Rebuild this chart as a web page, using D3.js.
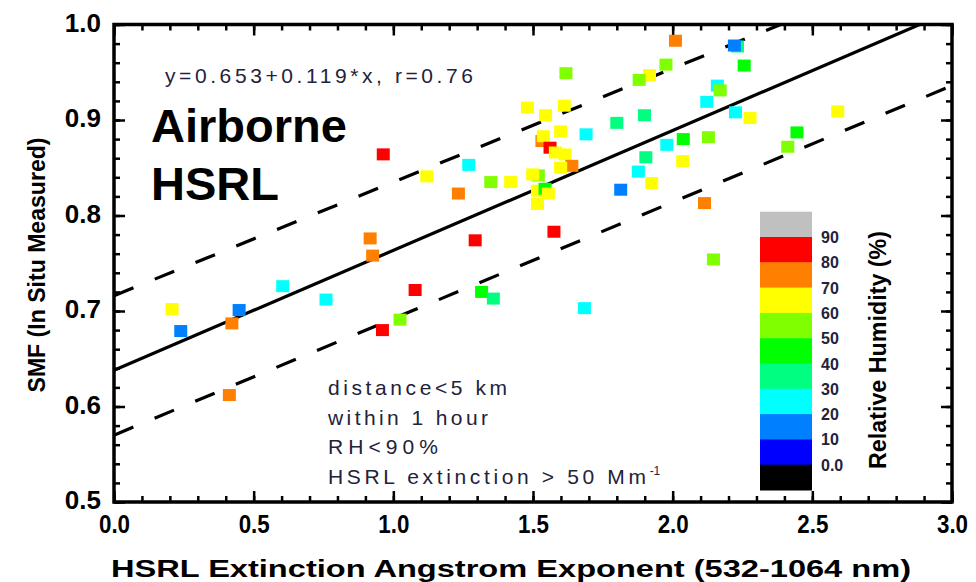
<!DOCTYPE html>
<html>
<head>
<meta charset="utf-8">
<script src="https://cdn.jsdelivr.net/npm/d3@7"></script>
<style>
  body { margin: 0; background: #fff; }
  svg { display: block; font-family: "Liberation Sans", Arial, sans-serif; }
</style>
</head>
<body>
<svg id="chart" width="976" height="582"></svg>
<script>
// angstrom exponent (x), SMF (y), relative humidity (colour)
const angstrom = [0.208, 0.239, 0.422, 0.448, 0.413, 0.604, 0.759, 0.917, 0.926, 0.964,
  0.961, 1.024, 1.078, 1.120, 1.233, 1.270, 1.293, 1.316, 1.358, 1.349,
  1.420, 1.480, 1.545, 1.612, 1.599, 1.532, 1.537, 1.561, 1.580, 1.615,
  1.639, 1.599, 1.519, 1.499, 1.516, 1.543, 1.555, 1.516, 1.575, 1.618,
  1.690, 1.684, 1.800, 1.814, 1.877, 1.925, 1.904, 1.899, 1.917, 1.880,
  1.976, 2.010, 1.979, 2.038, 2.036, 2.114, 2.128, 2.122, 2.160, 2.170,
  2.146, 2.232, 2.221, 2.256, 2.225, 2.277, 2.412, 2.445, 2.591];
const smf = [0.702, 0.679, 0.687, 0.701, 0.612, 0.726, 0.712, 0.776, 0.758, 0.864,
  0.680, 0.691, 0.722, 0.841, 0.823, 0.853, 0.774, 0.720, 0.713, 0.835,
  0.835, 0.913, 0.905, 0.915, 0.888, 0.878, 0.883, 0.871, 0.866, 0.864,
  0.852, 0.850, 0.842, 0.843, 0.826, 0.828, 0.823, 0.812, 0.783, 0.949,
  0.885, 0.703, 0.897, 0.827, 0.846, 0.834, 0.861, 0.905, 0.947, 0.942,
  0.958, 0.983, 0.874, 0.880, 0.857, 0.813, 0.882, 0.919, 0.936, 0.931,
  0.754, 0.977, 0.978, 0.957, 0.908, 0.902, 0.872, 0.887, 0.909];
const rh = [65, 15, 75, 15, 75, 25, 25, 75, 75, 85,
  85, 55, 85, 65, 75, 25, 85, 45, 35, 55,
  65, 65, 65, 65, 65, 75, 65, 85, 65, 65,
  75, 65, 55, 65, 65, 45, 65, 65, 85, 55,
  25, 25, 35, 15, 25, 65, 35, 35, 65, 55,
  55, 75, 25, 45, 65, 75, 55, 25, 25, 55,
  55, 35, 15, 45, 25, 65, 55, 45, 65];

// regression line and dashed bounds as drawn
const fitLine = { a: 0.638, b: 0.1255 };
const upperLine = { a: 0.716, b: 0.119 };
const lowerLine = { a: 0.570, b: 0.122 };

const rhBreaks = [0, 10, 20, 30, 40, 50, 60, 70, 80, 90];
const rhColors = ["#000000", "#0000ff", "#0080ff", "#00ffff", "#00ff80", "#00ff00",
  "#80ff00", "#ffff00", "#ff8000", "#ff0000", "#c0c0c0"];
const rhLabels = ["0.0", "10", "20", "30", "40", "50", "60", "70", "80", "90"];

const xMajor = [0, 0.5, 1, 1.5, 2, 2.5, 3];
const yMajor = [0.5, 0.6, 0.7, 0.8, 0.9, 1.0];

const notes = ["distance<5 km", "within 1 hour", "RH<90%"];
const noteWidths = [179, 160, 110];

const svg = d3.select("#chart");

const x = d3.scaleLinear().domain([0, 3]).range([114, 952]);
const y = d3.scaleLinear().domain([0.5, 1.0]).range([502, 24.5]);
const color = d3.scaleThreshold().domain(rhBreaks).range(rhColors);

const xMinor = d3.range(0, 3.001, 0.1).map(v => +v.toFixed(2));
const yMinor = d3.range(0.5, 1.001, 0.02).map(v => +v.toFixed(2));

// axes with inward ticks on all four sides
function drawAxis(axisFn, scale, minorVals, majorVals, tx, ty, labels) {
  const g = svg.append("g").attr("transform", `translate(${tx},${ty})`);
  g.append("g").call(axisFn(scale).tickValues(minorVals).tickSizeInner(-6).tickSizeOuter(0).tickFormat(""));
  const maj = g.append("g").call(axisFn(scale).tickValues(majorVals).tickSizeInner(-11).tickSizeOuter(0)
    .tickPadding(labels ? 13 : 0).tickFormat(labels ? d3.format(".1f") : ""));
  g.selectAll(".domain").remove();
  g.selectAll("line").attr("stroke", "#000").attr("stroke-width", 2.5);
  maj.selectAll("text")
    .attr("font-size", 26)
    .attr("font-weight", "bold")
    .attr("fill", "#000");
  return maj;
}
drawAxis(d3.axisBottom, x, xMinor, xMajor, 0, 502, true)
  .selectAll("text").attr("transform", "scale(0.86,1)");
drawAxis(d3.axisTop, x, xMinor, xMajor, 0, 24.5, false);
drawAxis(d3.axisLeft, y, yMinor, yMajor, 114, 0, true)
  .selectAll("text").attr("dy", "0.25em");
drawAxis(d3.axisRight, y, yMinor, yMajor, 952, 0, false);

svg.append("rect")
  .attr("x", 114).attr("y", 24.5)
  .attr("width", 952 - 114).attr("height", 502 - 24.5)
  .attr("fill", "none").attr("stroke", "#000").attr("stroke-width", 3.5);

// clip lines to plot box
svg.append("clipPath").attr("id", "plotClip")
  .append("rect").attr("x", 114).attr("y", 24.5).attr("width", 838).attr("height", 477.5);

const lines = svg.append("g").attr("clip-path", "url(#plotClip)");
function addLine(p, dash) {
  lines.append("line")
    .attr("x1", x(0)).attr("y1", y(p.a))
    .attr("x2", x(3)).attr("y2", y(p.a + p.b * 3))
    .attr("stroke", "#000").attr("stroke-width", 3.2)
    .attr("stroke-dasharray", dash);
}
addLine(fitLine, null);
addLine(upperLine, "21,23");
addLine(lowerLine, "21,23");

// points
svg.append("g").selectAll("rect")
  .data(angstrom.map((v, i) => ({ x: v, y: smf[i], rh: rh[i] })))
  .join("rect")
  .attr("x", d => x(d.x) - 6.5)
  .attr("y", d => y(d.y) - 6)
  .attr("width", 13)
  .attr("height", 12)
  .attr("fill", d => color(d.rh));

// text annotations
svg.append("text")
  .attr("x", 165).attr("y", 83)
  .attr("font-size", 21).attr("fill", "#22223a")
  .attr("textLength", 308).attr("lengthAdjust", "spacing")
  .text("y=0.653+0.119*x, r=0.76");

svg.append("text").attr("x", 151).attr("y", 142)
  .attr("font-size", 47).attr("font-weight", "bold").text("Airborne");
svg.append("text").attr("x", 151).attr("y", 200)
  .attr("font-size", 47).attr("font-weight", "bold").text("HSRL");

svg.append("g").selectAll("text")
  .data(notes)
  .join("text")
  .attr("x", 328)
  .attr("y", (d, i) => 395 + i * 29.5)
  .attr("font-size", 21).attr("fill", "#22223a")
  .attr("textLength", (d, i) => noteWidths[i]).attr("lengthAdjust", "spacing")
  .text(d => d);
const ext = svg.append("text").attr("x", 328).attr("y", 484)
  .attr("font-size", 21).attr("fill", "#22223a");
ext.append("tspan").attr("textLength", 318).attr("lengthAdjust", "spacing").text("HSRL extinction > 50 Mm");
ext.append("tspan").attr("dy", -9).attr("font-size", 12).text("-1");

// colour bar
const cb = { x: 760, w: 52, top: 211.7, band: 25.3 };
const nBands = rhColors.length;
svg.append("g").selectAll("rect")
  .data(rhColors.slice().reverse())
  .join("rect")
  .attr("x", cb.x)
  .attr("y", (d, i) => cb.top + i * cb.band)
  .attr("width", cb.w)
  .attr("height", cb.band + 0.5)
  .attr("fill", d => d);

svg.append("g").selectAll("text")
  .data(rhLabels)
  .join("text")
  .attr("x", 821)
  .attr("y", (d, i) => cb.top + (nBands - 1 - i) * cb.band + 6)
  .attr("font-size", 16).attr("font-weight", "bold").attr("fill", "#22223a")
  .text(d => d);

svg.append("text")
  .attr("transform", "translate(886,350) rotate(-90)")
  .attr("text-anchor", "middle")
  .attr("font-size", 23).attr("font-weight", "bold")
  .attr("textLength", 238).attr("lengthAdjust", "spacingAndGlyphs")
  .text("Relative Humidity (%)");

// axis titles
svg.append("text")
  .attr("x", 511).attr("y", 577)
  .attr("text-anchor", "middle")
  .attr("font-size", 24).attr("font-weight", "bold")
  .attr("textLength", 800).attr("lengthAdjust", "spacingAndGlyphs")
  .text("HSRL Extinction Angstrom Exponent (532-1064 nm)");

svg.append("text")
  .attr("transform", "translate(45,265) rotate(-90)")
  .attr("text-anchor", "middle")
  .attr("font-size", 23).attr("font-weight", "bold")
  .attr("textLength", 255).attr("lengthAdjust", "spacingAndGlyphs")
  .text("SMF (In Situ Measured)");
</script>
</body>
</html>
